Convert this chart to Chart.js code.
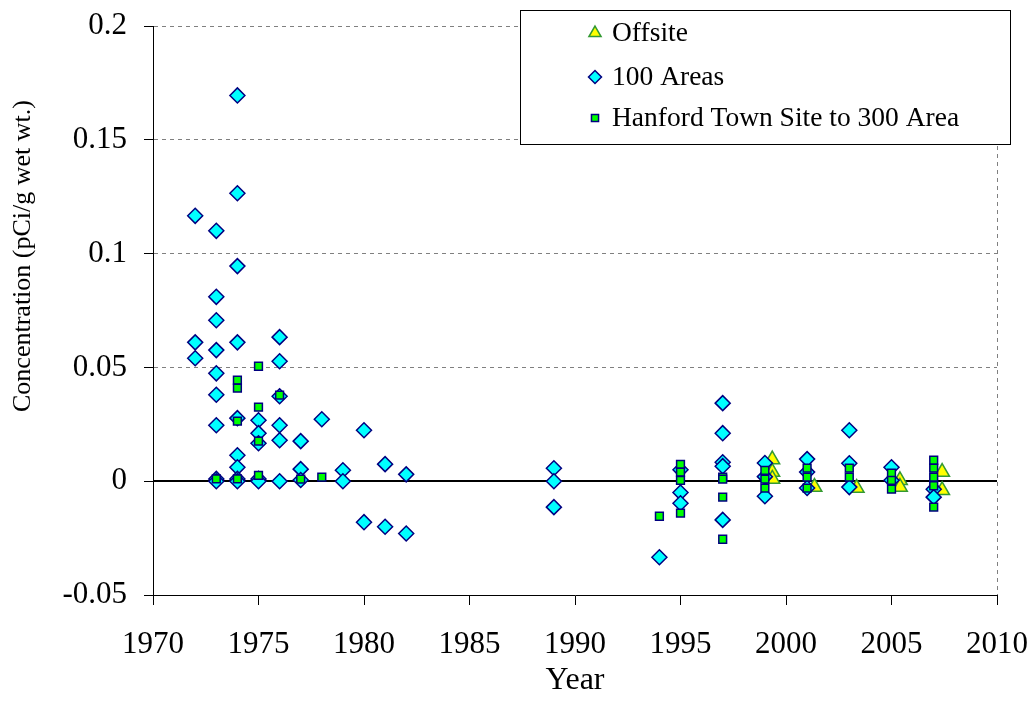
<!DOCTYPE html>
<html>
<head>
<meta charset="utf-8">
<title>Concentration by year</title>
<script src="https://cdn.jsdelivr.net/npm/chart.js@4.4.1/dist/chart.umd.min.js"></script>
<style>
    html, body { margin: 0; padding: 0; background: #fff; }
    #wrap { width: 1034px; height: 721px; }
</style>
</head>
<body>
<div id="wrap"><canvas id="chart" width="1034" height="721"></canvas></div>
<script>
// axis ticks
const yearTicks = [1970, 1975, 1980, 1985, 1990, 1995, 2000, 2005, 2010];
const concTicks = [-0.05, 0, 0.05, 0.1, 0.15, 0.2];
const seriesNames = ['Offsite', '100 Areas', 'Hanford Town Site to 300 Area'];

// [year, concentration pCi/g wet wt.]
const offsite = [
    [1999.35, 0.0095], [1999.35, 0.004], [1999.35, 0.001],
    [2001.35, -0.0026],
    [2003.35, -0.003],
    [2005.4, 0.0004], [2005.4, -0.0026],
    [2007.4, 0.004], [2007.4, -0.004]
];

const areas100 = [
    [1972, 0.1166], [1972, 0.061], [1972, 0.054],
    [1973, 0.110], [1973, 0.081], [1973, 0.0707], [1973, 0.0576], [1973, 0.0474],
    [1973, 0.038], [1973, 0.0246], [1973, 0.001], [1973, 0.0],
    [1974, 0.1695], [1974, 0.1265], [1974, 0.0945], [1974, 0.061], [1974, 0.0277],
    [1974, 0.0114], [1974, 0.0061], [1974, 0.001], [1974, 0.0],
    [1975, 0.0268], [1975, 0.0211], [1975, 0.0167], [1975, 0.001], [1975, 0.0],
    [1976, 0.0633], [1976, 0.0527], [1976, 0.0373], [1976, 0.0246], [1976, 0.018], [1976, 0.0],
    [1977, 0.0176], [1977, 0.0053], [1977, 0.0005],
    [1978, 0.0272],
    [1979, 0.0048], [1979, 0.0],
    [1980, 0.0224], [1980, -0.018],
    [1981, 0.0075], [1981, -0.020],
    [1982, 0.003], [1982, -0.023],
    [1989, 0.0057], [1989, 0.0], [1989, -0.0114],
    [1994, -0.0334],
    [1995, 0.005], [1995, -0.005], [1995, -0.0097],
    [1997, 0.0343], [1997, 0.0211], [1997, 0.0083], [1997, 0.0066], [1997, -0.017],
    [1999, 0.008], [1999, 0.002], [1999, -0.0066],
    [2001, 0.0097], [2001, 0.004], [2001, -0.003],
    [2003, 0.0224], [2003, 0.0079], [2003, -0.0026],
    [2005, 0.0061], [2005, 0.0004],
    [2007, -0.0035], [2007, -0.007]
];

const hanford = [
    [1973, 0.001],
    [1974, 0.0444], [1974, 0.0409], [1974, 0.0264], [1974, 0.001],
    [1975, 0.0505], [1975, 0.0325], [1975, 0.0176], [1975, 0.0026],
    [1976, 0.0378],
    [1977, 0.0009],
    [1978, 0.0018],
    [1994, -0.0154],
    [1995, 0.0074], [1995, 0.004], [1995, 0.0004], [1995, -0.014],
    [1997, 0.0018], [1997, 0.0009], [1997, -0.007], [1997, -0.0255],
    [1999, 0.0048], [1999, 0.0009], [1999, -0.003],
    [2001, 0.0057], [2001, 0.0018], [2001, -0.003],
    [2003, 0.0057], [2003, 0.0018],
    [2005, 0.0035], [2005, 0.0004], [2005, -0.0035],
    [2007, 0.0092], [2007, 0.0057], [2007, 0.0018], [2007, -0.002], [2007, -0.0114]
];

const toPoints = arr => arr.map(p => ({ x: p[0], y: p[1] }));
const serif = "'Liberation Serif', 'Times New Roman', serif";

// zero line, right border, y title and the boxed legend
const extras = {
    id: 'extras',
    beforeDatasetsDraw(chart) {
        const { ctx, chartArea, scales } = chart;
        ctx.save();
        ctx.strokeStyle = '#808080';
        ctx.lineWidth = 1;
        ctx.setLineDash([4, 4]);
        ctx.beginPath();
        ctx.moveTo(chartArea.right + 0.5, chartArea.top);
        ctx.lineTo(chartArea.right + 0.5, chartArea.bottom);
        ctx.stroke();
        ctx.setLineDash([]);
        const y0 = Math.round(scales.y.getPixelForValue(0));
        ctx.strokeStyle = '#000';
        ctx.lineWidth = 2;
        ctx.beginPath();
        ctx.moveTo(chartArea.left, y0);
        ctx.lineTo(chartArea.right, y0);
        ctx.stroke();

        // y axis title sits a little above the middle of the plot, like the original
        ctx.translate(23, 256);
        ctx.rotate(-Math.PI / 2);
        ctx.fillStyle = '#000';
        ctx.font = '26px ' + serif;
        ctx.textAlign = 'center';
        ctx.textBaseline = 'middle';
        ctx.fillText('Concentration (pCi/g wet wt.)', 0, 0);
        ctx.restore();
    },
    afterDraw(chart) {
        const ctx = chart.ctx;
        ctx.save();
        ctx.fillStyle = '#fff';
        ctx.fillRect(520, 10, 490, 134);
        ctx.strokeStyle = '#000';
        ctx.lineWidth = 1;
        ctx.strokeRect(520.5, 10.5, 490, 134);
        const rows = [33, 77, 118];
        seriesNames.forEach((name, i) => {
            const ds = chart.data.datasets.find(d => d.label === name);
            ctx.fillStyle = ds.backgroundColor;
            ctx.strokeStyle = ds.borderColor;
            ctx.lineWidth = ds.borderWidth;
            Chart.helpers.drawPoint(ctx, {
                pointStyle: ds.pointStyle,
                radius: ds.legendRadius,
                rotation: 0,
                borderWidth: ds.borderWidth
            }, 595, rows[i]);
            ctx.fillStyle = '#000';
            ctx.font = '27.5px ' + serif;
            ctx.textBaseline = 'middle';
            ctx.textAlign = 'left';
            ctx.fillText(name, 612, rows[i] + 1);
        });
        ctx.restore();
    }
};

const ctx = document.getElementById('chart').getContext('2d');
new Chart(ctx, {
    type: 'scatter',
    data: {
        datasets: [
            {
                label: seriesNames[2],
                data: toPoints(hanford),
                pointStyle: 'rect',
                pointRadius: 5.5,
                legendRadius: 5,
                backgroundColor: '#00ff00',
                borderColor: '#000080',
                borderWidth: 1.5
            },
            {
                label: seriesNames[1],
                data: toPoints(areas100),
                pointStyle: 'rectRot',
                pointRadius: 7.5,
                legendRadius: 6.5,
                backgroundColor: '#00ffff',
                borderColor: '#000080',
                borderWidth: 1.5
            },
            {
                label: seriesNames[0],
                data: toPoints(offsite),
                pointStyle: 'triangle',
                pointRadius: 8.5,
                legendRadius: 7,
                backgroundColor: '#ffff00',
                borderColor: '#339933',
                borderWidth: 1.5
            }
        ]
    },
    options: {
        responsive: false,
        animation: false,
        devicePixelRatio: 1,
        layout: { padding: { top: 26, right: 37, left: 0, bottom: 0 } },
        plugins: {
            legend: { display: false },
            tooltip: { enabled: false }
        },
        scales: {
            x: {
                type: 'linear',
                min: 1970,
                max: 2010,
                afterBuildTicks: s => { s.ticks = yearTicks.map(v => ({ value: v })); },
                // fixed box so the plot area lands where the original's does
                afterFit: s => { s.height = 126; s.paddingLeft = 0; s.paddingRight = 0; },
                grid: { drawOnChartArea: false, tickColor: '#000', tickLength: 10 },
                border: { color: '#000', width: 1 },
                ticks: {
                    color: '#000',
                    font: { family: serif, size: 31 },
                    padding: 21,
                    maxRotation: 0,
                    callback: v => String(v)
                },
                title: {
                    display: true,
                    text: 'Year',
                    color: '#000',
                    font: { family: serif, size: 32 },
                    padding: { top: 0, bottom: 21 }
                }
            },
            y: {
                min: -0.05,
                max: 0.2,
                afterBuildTicks: s => { s.ticks = concTicks.map(v => ({ value: v })); },
                afterFit: s => { s.width = 153; s.paddingTop = 0; s.paddingBottom = 0; },
                grid: {
                    color: c => (c.tick && c.tick.value === 0) ? 'rgba(0,0,0,0)' : '#808080',
                    tickColor: '#000',
                    tickLength: 9
                },
                border: { color: '#000', width: 1, dash: [4, 4] },
                ticks: {
                    color: '#000',
                    font: { family: serif, size: 31 },
                    padding: 17,
                    callback: v => String(Number(v.toFixed(2)))
                }
            }
        }
    },
    plugins: [extras]
});
</script>
</body>
</html>
